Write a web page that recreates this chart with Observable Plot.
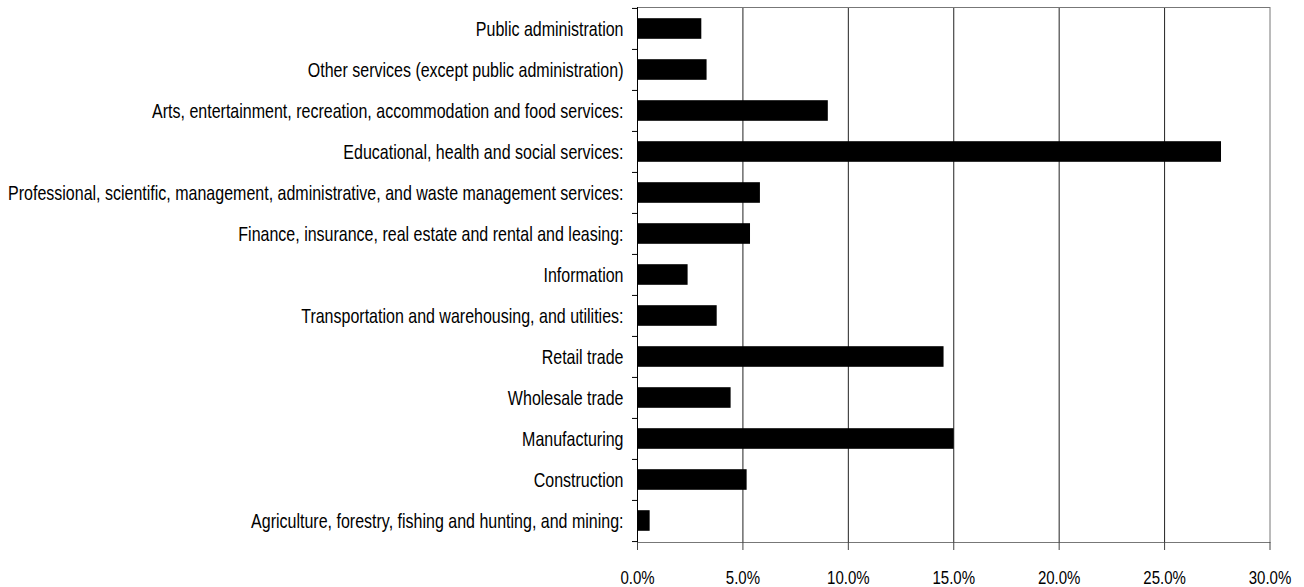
<!DOCTYPE html>
<html>
<head>
<meta charset="utf-8">
<script src="https://cdn.jsdelivr.net/npm/d3@7"></script>
<script src="https://cdn.jsdelivr.net/npm/@observablehq/plot@0.6"></script>
<style>
  html, body { margin: 0; padding: 0; background: #fff; }
  #chart svg { display: block; }
</style>
</head>
<body>
<div id="chart"></div>
<script>
const categories = [
  "Public administration",
  "Other services (except public administration)",
  "Arts, entertainment, recreation, accommodation and food services:",
  "Educational, health and social services:",
  "Professional, scientific, management, administrative, and waste management services:",
  "Finance, insurance, real estate and rental and leasing:",
  "Information",
  "Transportation and warehousing, and utilities:",
  "Retail trade",
  "Wholesale trade",
  "Manufacturing",
  "Construction",
  "Agriculture, forestry, fishing and hunting, and mining:"
];
const values = [3.05, 3.30, 9.05, 27.70, 5.83, 5.36, 2.40, 3.78, 14.54, 4.44, 15.02, 5.20, 0.60];
const xTicks = [0, 5, 10, 15, 20, 25, 30];

const data = categories.map((c, i) => ({category: c, value: values[i]}));

const W = 1304, H = 587;
const mTop = 7, mBottom = 45, mLeft = 637, mRight = 34.5;
const band = (H - mTop - mBottom) / categories.length;
const pxPerUnit = (W - mLeft - mRight) / 30;

const chart = Plot.plot({
  width: W,
  height: H,
  marginTop: mTop,
  marginBottom: mBottom,
  marginLeft: mLeft,
  marginRight: mRight,
  style: {fontFamily: "'Liberation Sans Narrow', 'Arial Narrow', 'Liberation Sans', sans-serif", fontSize: "16px", color: "#000", background: "#fff"},
  x: {domain: [0, 30], ticks: xTicks, tickFormat: d => d.toFixed(1) + "%"},
  y: {domain: categories, padding: 0},
  marks: [
    Plot.gridX(xTicks.filter(t => t > 0 && t < 30), {stroke: "#222", strokeOpacity: 1}),
    Plot.frame({stroke: "#777"}),
    Plot.barX(data, {x: "value", y: "category", fill: "#000", insetTop: 10.2, insetBottom: 10.2}),
    Plot.ruleX([0], {stroke: "#000"}),
    Plot.ruleY(categories, {y: d => d, x1: -5 / pxPerUnit, x2: 0, dy: -band / 2, stroke: "#000"}),
    Plot.ruleY([categories[categories.length - 1]], {y: d => d, x1: -5 / pxPerUnit, x2: 0, dy: band / 2, stroke: "#000"}),
    Plot.axisY({tickSize: 0, tickPadding: 14, label: null, fontSize: 21}),
    Plot.axisX({ticks: xTicks, tickSize: 8, tickPadding: 20, label: null, stroke: "#444", fontSize: 19, tickFormat: d => d.toFixed(1) + "%"})
  ]
});
document.getElementById("chart").appendChild(chart);

// Emulate the narrow face of the original: squeeze the glyphs horizontally
function condense(selector, factor) {
  chart.querySelectorAll(selector).forEach(t => {
    const len = t.getComputedTextLength();
    if (len > 0) {
      t.setAttribute("textLength", (len * factor).toFixed(2));
      t.setAttribute("lengthAdjust", "spacingAndGlyphs");
    }
  });
}
condense('g[aria-label="y-axis tick label"] text', 0.762);
condense('g[aria-label="x-axis tick label"] text', 0.79);
</script>
</body>
</html>
